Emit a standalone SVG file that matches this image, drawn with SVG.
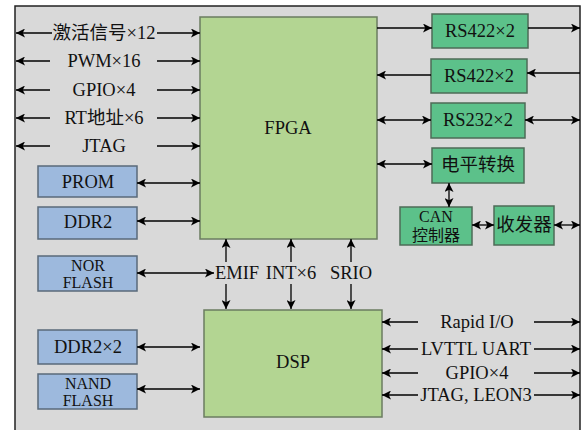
<svg xmlns="http://www.w3.org/2000/svg" width="582" height="430" viewBox="0 0 582 430">
<defs>
<marker id="ah" viewBox="0 0 10 10" refX="10" refY="5" markerWidth="9" markerHeight="9" markerUnits="userSpaceOnUse" orient="auto-start-reverse">
<path d="M0,0 L10,5 L0,10 L2.5,5 Z" fill="#000"/>
</marker>
</defs>
<style>
text{font-family:"Liberation Serif","Times New Roman",serif;font-size:18.5px;fill:#111;text-anchor:middle;dominant-baseline:central}
.cjk{font-family:"Liberation Serif","Noto Sans CJK SC",serif}
.sm{font-size:16px}
.c{stroke:#000;stroke-width:1.3;fill:none}
.main{fill:#b3d592;stroke:#6b7c60;stroke-width:1.5}
.g{fill:#5cc18a;stroke:#4d6b57;stroke-width:1.5}
.b{fill:#9db9dd;stroke:#5a6a7a;stroke-width:1.5}
</style>
<rect x="15" y="6" width="565" height="430" fill="#d9d9d9" stroke="#222" stroke-width="1.5"/>

<g id="fpga"><rect class="main" x="200" y="17" width="177" height="222"/><text x="288" y="128">FPGA</text></g>
<g id="dsp"><rect class="main" x="204" y="310" width="178" height="107"/><text x="293" y="362">DSP</text></g>

<g id="prom"><rect class="b" x="38" y="166" width="99" height="31"/><text x="88" y="182">PROM</text></g>
<g id="ddr2"><rect class="b" x="38" y="207" width="99" height="32"/><text x="88" y="222">DDR2</text></g>
<g id="norflash"><rect class="b" x="38" y="256" width="99" height="35"/><text class="sm" x="88" y="265">NOR</text><text class="sm" x="88" y="282">FLASH</text></g>
<g id="ddr2x2"><rect class="b" x="38" y="330" width="99" height="34"/><text x="88" y="347">DDR2×2</text></g>
<g id="nandflash"><rect class="b" x="38" y="374" width="99" height="35"/><text class="sm" x="88" y="383">NAND</text><text class="sm" x="88" y="400">FLASH</text></g>

<g id="rs422a"><rect class="g" x="432" y="14" width="96" height="34"/><text x="480" y="31">RS422×2</text></g>
<g id="rs422b"><rect class="g" x="431" y="59" width="96" height="34"/><text x="479" y="76">RS422×2</text></g>
<g id="rs232"><rect class="g" x="431" y="103" width="94" height="35"/><text x="478" y="120">RS232×2</text></g>
<g id="level"><rect class="g" x="432" y="148" width="92" height="35"/><text class="cjk" x="478" y="165">电平转换</text></g>
<g id="can"><rect class="g" x="400" y="207" width="72" height="38"/><text class="sm" x="436" y="216">CAN</text><text class="cjk sm" x="436" y="235">控制器</text></g>
<g id="xcvr"><rect class="g" x="494" y="206" width="60" height="39"/><text class="cjk" x="524" y="225">收发器</text></g>

<g id="labels">
<text class="cjk" x="104" y="33">激活信号×12</text>
<text x="104" y="61">PWM×16</text>
<text x="104" y="90">GPIO×4</text>
<text class="cjk" x="104" y="118">RT地址×6</text>
<text x="104" y="146">JTAG</text>
<text x="237" y="273">EMIF</text>
<text x="291" y="273">INT×6</text>
<text x="351" y="273">SRIO</text>
<text x="477" y="322">Rapid I/O</text>
<text x="476" y="349">LVTTL UART</text>
<text x="477" y="373">GPIO×4</text>
<text x="476" y="395">JTAG, LEON3</text>
</g>

<g id="connectors">
<path class="c" d="M16,33 H52" marker-start="url(#ah)"/><path class="c" d="M157,33 H200" marker-end="url(#ah)"/>
<path class="c" d="M16,61 H50" marker-start="url(#ah)"/><path class="c" d="M157,61 H200" marker-end="url(#ah)"/>
<path class="c" d="M16,90 H50" marker-start="url(#ah)"/><path class="c" d="M157,90 H200" marker-end="url(#ah)"/>
<path class="c" d="M16,118 H50" marker-start="url(#ah)"/><path class="c" d="M157,118 H200" marker-end="url(#ah)"/>
<path class="c" d="M16,146 H50" marker-start="url(#ah)"/><path class="c" d="M157,146 H200" marker-end="url(#ah)"/>
<path class="c" d="M137,183 H200" marker-start="url(#ah)" marker-end="url(#ah)"/>
<path class="c" d="M137,221 H200" marker-start="url(#ah)" marker-end="url(#ah)"/>
<path class="c" d="M137,273 H214" marker-start="url(#ah)" marker-end="url(#ah)"/>
<path class="c" d="M137,347 H200" marker-start="url(#ah)" marker-end="url(#ah)"/>
<path class="c" d="M137,389 H200" marker-start="url(#ah)" marker-end="url(#ah)"/>
<path class="c" d="M226,262 V239" marker-end="url(#ah)"/><path class="c" d="M226,284 V309" marker-end="url(#ah)"/>
<path class="c" d="M291,262 V239" marker-end="url(#ah)"/><path class="c" d="M291,284 V309" marker-end="url(#ah)"/>
<path class="c" d="M351,262 V239" marker-end="url(#ah)"/><path class="c" d="M351,284 V309" marker-end="url(#ah)"/>
<path class="c" d="M377,28 H432" marker-end="url(#ah)"/><path class="c" d="M528,28 H580" marker-end="url(#ah)"/>
<path class="c" d="M431,75 H377" marker-end="url(#ah)"/><path class="c" d="M580,73 H527" marker-end="url(#ah)"/>
<path class="c" d="M377,120 H431" marker-start="url(#ah)" marker-end="url(#ah)"/><path class="c" d="M525,120 H580" marker-start="url(#ah)" marker-end="url(#ah)"/>
<path class="c" d="M377,164 H432" marker-start="url(#ah)" marker-end="url(#ah)"/>
<path class="c" d="M449,183 V207" marker-start="url(#ah)" marker-end="url(#ah)"/>
<path class="c" d="M472,225 H494" marker-start="url(#ah)" marker-end="url(#ah)"/>
<path class="c" d="M554,225 H580" marker-start="url(#ah)" marker-end="url(#ah)"/>
<path class="c" d="M382,322 H418" marker-start="url(#ah)"/><path class="c" d="M534,322 H580" marker-end="url(#ah)"/>
<path class="c" d="M382,349 H418" marker-start="url(#ah)"/><path class="c" d="M534,349 H580" marker-end="url(#ah)"/>
<path class="c" d="M382,373 H418" marker-start="url(#ah)"/><path class="c" d="M534,373 H580" marker-end="url(#ah)"/>
<path class="c" d="M382,395 H418" marker-start="url(#ah)"/><path class="c" d="M534,395 H580" marker-end="url(#ah)"/>
</g>
</svg>
